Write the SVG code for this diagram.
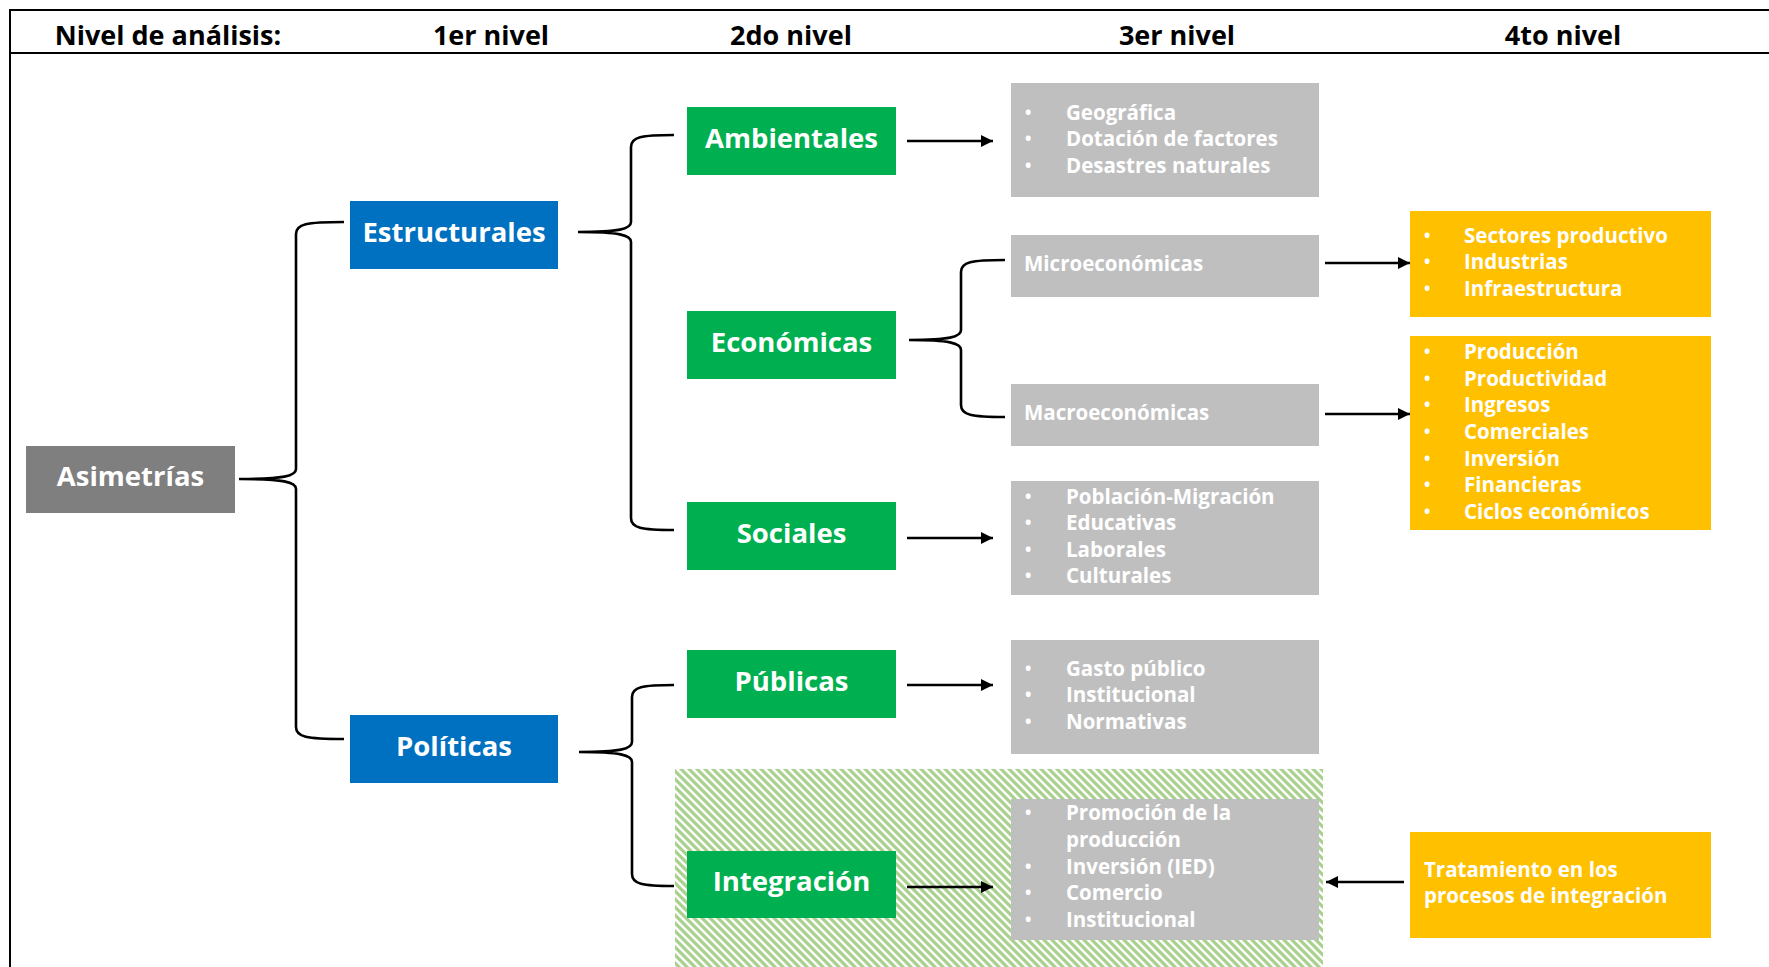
<svg xmlns="http://www.w3.org/2000/svg" width="1769" height="967" viewBox="0 0 1769 967">
<style>
.hdr{font-family:"Open Sans","Liberation Sans",sans-serif;font-weight:700;font-size:27px;fill:#000;text-anchor:middle}
.lbl{font-family:"Open Sans","Liberation Sans",sans-serif;font-weight:700;font-size:27.5px;fill:#fff;text-anchor:middle}
.lst{font-family:"Open Sans","Liberation Sans",sans-serif;font-weight:700;font-size:20.5px;fill:#fff}
.bul{font-family:"Open Sans","Liberation Sans",sans-serif;font-weight:700;font-size:17px;fill:#fff}
.gray{fill:#BFBFBF}
.blue{fill:#0070C0}
.green{fill:#00B050}
.yel{fill:#FFC000}
.dark{fill:#7F7F7F}
.brace{fill:none;stroke:#000;stroke-width:2.6}
.arr{fill:none;stroke:#000;stroke-width:2.6;marker-end:url(#ah)}
.frame{stroke:#000;stroke-width:2;fill:none}
</style>
<defs>
<marker id="ah" markerUnits="userSpaceOnUse" markerWidth="14" markerHeight="12" refX="12" refY="6" orient="auto">
<path d="M0,0 L12,6 L0,12 Z" fill="#000"/>
</marker>
<pattern id="hatch" patternUnits="userSpaceOnUse" width="8" height="8">
<rect width="8" height="8" fill="#fff"/>
<path d="M-2,-2 L10,10 M-2,6 L2,10 M6,-2 L10,2" stroke="#A9D18E" stroke-width="3.2"/>
</pattern>
</defs>
<rect width="1769" height="967" fill="#fff"/>

<g id="frame">
<line class="frame" x1="9" y1="10" x2="1769" y2="10"/>
<line class="frame" x1="9" y1="53" x2="1769" y2="53"/>
<line class="frame" x1="10" y1="9" x2="10" y2="967"/>
</g>

<g id="header">
<text class="hdr" x="168" y="45">Nivel de análisis:</text>
<text class="hdr" x="491" y="45">1er nivel</text>
<text class="hdr" x="791" y="45">2do nivel</text>
<text class="hdr" x="1177" y="45">3er nivel</text>
<text class="hdr" x="1563" y="45">4to nivel</text>
</g>

<g id="integration-area">
<rect x="675" y="769" width="648" height="198" fill="url(#hatch)"/>
</g>

<g id="connectors">
<path class="brace" d="M344,222 C306,222 296,224 296,234 L296,469 C296,476 284,479 239,479 C284,479 296,482 296,489 L296,727 C296,737 306,739 344,739"/>
<path class="brace" d="M674,135 C641,135 631,137 631,147 L631,222 C631,229 619,232 578,232 C619,232 631,235 631,242 L631,518 C631,528 641,530 674,530"/>
<path class="brace" d="M674,685 C642,685 632,687 632,697 L632,742 C632,749 620,752 579,752 C620,752 632,755 632,762 L632,874 C632,884 642,886 674,886"/>
<path class="brace" d="M1005,260 C971,260 961,262 961,272 L961,330 C961,337 949,340 909,340 C949,340 961,343 961,350 L961,405 C961,415 971,417 1005,417"/>
<line class="arr" x1="907" y1="141" x2="993" y2="141"/>
<line class="arr" x1="907" y1="538" x2="993" y2="538"/>
<line class="arr" x1="907" y1="685" x2="993" y2="685"/>
<line class="arr" x1="907" y1="887" x2="993" y2="887"/>
<line class="arr" x1="1325" y1="263" x2="1410" y2="263"/>
<line class="arr" x1="1325" y1="414" x2="1410" y2="414"/>
<line class="arr" x1="1404" y1="882" x2="1326" y2="882"/>
</g>

<g id="asimetrias">
<rect class="dark" x="26" y="446" width="209" height="67"/>
<text class="lbl" x="130.5" y="486">Asimetrías</text>
</g>
<g id="estructurales">
<rect class="blue" x="350" y="201" width="208" height="68"/>
<text class="lbl" x="454" y="242">Estructurales</text>
</g>
<g id="politicas">
<rect class="blue" x="350" y="715" width="208" height="68"/>
<text class="lbl" x="454" y="756">Políticas</text>
</g>
<g id="ambientales">
<rect class="green" x="687" y="107" width="209" height="68"/>
<text class="lbl" x="791.5" y="148">Ambientales</text>
</g>
<g id="economicas">
<rect class="green" x="687" y="311" width="209" height="68"/>
<text class="lbl" x="791.5" y="352">Económicas</text>
</g>
<g id="sociales">
<rect class="green" x="687" y="502" width="209" height="68"/>
<text class="lbl" x="791.5" y="543">Sociales</text>
</g>
<g id="publicas">
<rect class="green" x="687" y="650" width="209" height="68"/>
<text class="lbl" x="791.5" y="691">Públicas</text>
</g>
<g id="integracion">
<rect class="green" x="687" y="851" width="209" height="67"/>
<text class="lbl" x="791.5" y="891">Integración</text>
</g>

<g id="ambientales-list">
<rect class="gray" x="1011" y="83" width="308" height="114"/>
<text class="bul" x="1025" y="119">•</text><text class="lst" x="1066" y="120">Geográfica</text>
<text class="bul" x="1025" y="145">•</text><text class="lst" x="1066" y="146">Dotación de factores</text>
<text class="bul" x="1025" y="172">•</text><text class="lst" x="1066" y="173">Desastres naturales</text>
</g>
<g id="microeconomicas">
<rect class="gray" x="1011" y="235" width="308" height="62"/>
<text class="lst" x="1024" y="271">Microeconómicas</text>
</g>
<g id="macroeconomicas">
<rect class="gray" x="1011" y="384" width="308" height="62"/>
<text class="lst" x="1024" y="420">Macroeconómicas</text>
</g>
<g id="sociales-list">
<rect class="gray" x="1011" y="481" width="308" height="114"/>
<text class="bul" x="1025" y="503">•</text><text class="lst" x="1066" y="504">Población-Migración</text>
<text class="bul" x="1025" y="529">•</text><text class="lst" x="1066" y="530">Educativas</text>
<text class="bul" x="1025" y="556">•</text><text class="lst" x="1066" y="557">Laborales</text>
<text class="bul" x="1025" y="582">•</text><text class="lst" x="1066" y="583">Culturales</text>
</g>
<g id="publicas-list">
<rect class="gray" x="1011" y="640" width="308" height="114"/>
<text class="bul" x="1025" y="675">•</text><text class="lst" x="1066" y="676">Gasto público</text>
<text class="bul" x="1025" y="701">•</text><text class="lst" x="1066" y="702">Institucional</text>
<text class="bul" x="1025" y="728">•</text><text class="lst" x="1066" y="729">Normativas</text>
</g>
<g id="integracion-list">
<rect class="gray" x="1011" y="799" width="308" height="141"/>
<text class="bul" x="1025" y="819">•</text><text class="lst" x="1066" y="820">Promoción de la</text>
<text class="lst" x="1066" y="847">producción</text>
<text class="bul" x="1025" y="873">•</text><text class="lst" x="1066" y="874">Inversión (IED)</text>
<text class="bul" x="1025" y="899">•</text><text class="lst" x="1066" y="900">Comercio</text>
<text class="bul" x="1025" y="926">•</text><text class="lst" x="1066" y="927">Institucional</text>
</g>

<g id="micro-list">
<rect class="yel" x="1410" y="211" width="301" height="106"/>
<text class="bul" x="1424" y="242">•</text><text class="lst" x="1464" y="243">Sectores productivo</text>
<text class="bul" x="1424" y="268">•</text><text class="lst" x="1464" y="269">Industrias</text>
<text class="bul" x="1424" y="295">•</text><text class="lst" x="1464" y="296">Infraestructura</text>
</g>
<g id="macro-list">
<rect class="yel" x="1410" y="336" width="301" height="194"/>
<text class="bul" x="1424" y="358">•</text><text class="lst" x="1464" y="359">Producción</text>
<text class="bul" x="1424" y="385">•</text><text class="lst" x="1464" y="386">Productividad</text>
<text class="bul" x="1424" y="411">•</text><text class="lst" x="1464" y="412">Ingresos</text>
<text class="bul" x="1424" y="438">•</text><text class="lst" x="1464" y="439">Comerciales</text>
<text class="bul" x="1424" y="465">•</text><text class="lst" x="1464" y="466">Inversión</text>
<text class="bul" x="1424" y="491">•</text><text class="lst" x="1464" y="492">Financieras</text>
<text class="bul" x="1424" y="518">•</text><text class="lst" x="1464" y="519">Ciclos económicos</text>
</g>
<g id="tratamiento">
<rect class="yel" x="1410" y="832" width="301" height="106"/>
<text class="lst" x="1424" y="877">Tratamiento en los</text>
<text class="lst" x="1424" y="903">procesos de integración</text>
</g>
</svg>
